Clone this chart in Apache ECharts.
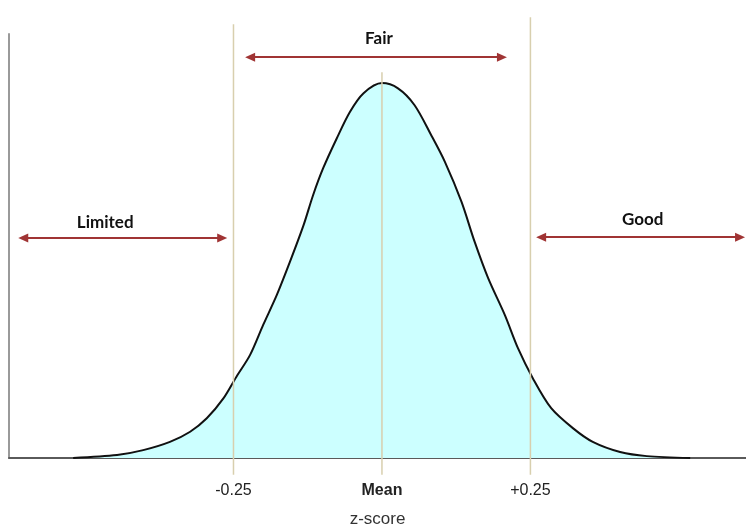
<!DOCTYPE html>
<html>
<head>
<meta charset="utf-8">
<script src="https://cdn.jsdelivr.net/npm/echarts@6/dist/echarts.min.js"></script>
<style>
html,body{margin:0;padding:0;background:#fff;}
#chart{width:746px;height:525px;}
</style>
</head>
<body>
<div id="chart"></div>
<script>
// z-score positions and relative curve heights
const zValues = [-0.52, -0.446, -0.402, -0.357, -0.323, -0.295, -0.267, -0.245, -0.222, -0.200, -0.177, -0.155, -0.132, -0.116, -0.099, -0.076, -0.054, -0.031, 0, 0.027, 0.055, 0.083, 0.106, 0.134, 0.156, 0.179, 0.207, 0.229, 0.254, 0.285, 0.322, 0.355, 0.401, 0.446, 0.519];
const heights = [0, 0.008, 0.021, 0.043, 0.070, 0.106, 0.159, 0.217, 0.275, 0.355, 0.435, 0.523, 0.621, 0.701, 0.773, 0.853, 0.923, 0.973, 1.0, 0.986, 0.941, 0.861, 0.790, 0.683, 0.577, 0.479, 0.381, 0.293, 0.213, 0.133, 0.079, 0.043, 0.016, 0.005, 0];
const tickValues = [-0.25, 0, 0.25];
const tickLabels = ['-0.25', 'Mean', '+0.25'];
const zoneNames = ['Limited', 'Fair', 'Good'];

const curve = zValues.map((z, i) => [z, heights[i]]);
const lineColor = '#d8cfae';
const arrowColor = '#a03434';
const guideTops = [1.157, 1.029, 1.176];
const guideBottom = -0.045;

const guideSeries = tickValues.map((v, i) => ({
  type: 'line',
  data: [[v, guideBottom], [v, guideTops[i]]],
  symbol: 'none',
  clip: false,
  silent: true,
  z: 4,
  lineStyle: { color: lineColor, width: 1.5 }
}));

const chart = echarts.init(document.getElementById('chart'));
chart.setOption({
  animation: false,
  grid: { left: 9, right: 0, top: 34, bottom: 67, containLabel: false, outerBoundsMode: 'none' },
  xAxis: {
    type: 'value',
    min: -0.628, max: 0.613,
    splitLine: { show: false },
    axisTick: { show: false },
    axisLine: { show: true, onZero: false, lineStyle: { color: '#5a5a5a', width: 2 } },
    axisLabel: {
      customValues: tickValues,
      showMinLabel: true, showMaxLabel: true,
      margin: 25,
      color: '#222',
      fontFamily: 'Liberation Sans',
      fontSize: 16,
      formatter: function (v) {
        const i = tickValues.indexOf(v);
        const t = i >= 0 ? tickLabels[i] : '';
        return v === 0 ? '{b|' + t + '}' : t;
      },
      rich: { b: { fontWeight: 'bold', fontSize: 16, fontFamily: 'Liberation Sans', color: '#222', padding: [0, 0, 3, 0] } }
    },
    name: 'z-score',
    nameLocation: 'middle',
    nameGap: 53,
    nameTextStyle: { fontFamily: 'Liberation Sans', fontSize: 17, color: '#333' }
  },
  yAxis: {
    type: 'value',
    min: 0, max: 1.131,
    splitLine: { show: false },
    axisTick: { show: false },
    axisLabel: { show: false },
    axisLine: { show: true, onZero: false, lineStyle: { color: '#9a9a9a', width: 2 } }
  },
  series: [
    {
      type: 'line',
      data: curve,
      smooth: 0.3,
      symbol: 'none',
      clip: false,
      silent: true,
      lineStyle: { color: '#111', width: 2 },
      areaStyle: { color: '#ccffff', opacity: 1 },
      z: 2
    },
    ...guideSeries,
    {
      type: 'line',
      data: [],
      clip: false,
      z: 5,
      markLine: {
        silent: true,
        symbol: ['triangle', 'triangle'],
        symbolSize: [9, 10],
        label: { show: false },
        lineStyle: { color: arrowColor, width: 2, type: 'solid' },
        itemStyle: { color: arrowColor },
        data: [
          [{ coord: [-0.604, 0.587] }, { coord: [-0.269, 0.587] }],
          [{ coord: [-0.222, 1.069] }, { coord: [0.202, 1.069] }],
          [{ coord: [0.268, 0.589] }, { coord: [0.603, 0.589] }]
        ]
      },
      markPoint: {
        silent: true,
        symbol: 'circle',
        symbolSize: 1,
        itemStyle: { color: 'transparent' },
        label: {
          show: true,
          position: 'inside',
          formatter: '{b}',
          color: '#111',
          fontFamily: 'Lato',
          fontWeight: 'bold',
          fontSize: 17
        },
        data: [
          { name: zoneNames[0], coord: [-0.466, 0.629] },
          { name: zoneNames[1], coord: [-0.005, 1.12] },
          { name: zoneNames[2], coord: [0.439, 0.635] }
        ]
      }
    }
  ]
});
</script>
</body>
</html>
